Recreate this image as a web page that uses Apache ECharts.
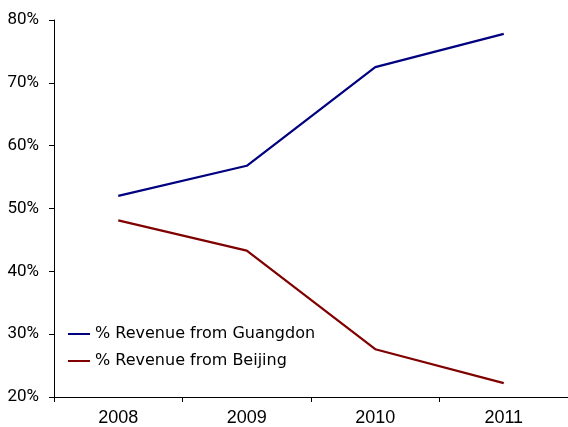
<!DOCTYPE html>
<html>
<head>
<meta charset="utf-8">
<script src="https://cdn.jsdelivr.net/npm/echarts@6/dist/echarts.min.js"></script>
<style>html,body{margin:0;padding:0;background:#fff;}#c{width:568px;height:427px;}</style>
</head>
<body>
<div id="c"></div>
<script>
const categories = ['2008', '2009', '2010', '2011'];
const guangdong = [52.0, 56.8, 72.5, 77.8];
const beijing = [48.1, 43.3, 27.6, 22.2];
const seriesNames = ['% Revenue from Guangdon', '% Revenue from Beijing'];

const chart = echarts.init(document.getElementById('c'), null, {renderer: 'canvas'});
chart.setOption({
  animation: false,
  backgroundColor: '#ffffff',
  grid: {left: 54, top: 20, width: 516, height: 377, containLabel: false},
  legend: {
    orient: 'vertical', left: 68, top: 326, padding: 0, itemGap: 11, itemWidth: 22, itemHeight: 14,
    icon: 'path://M0,6 L22,6 L22,8 L0,8 Z',
    textStyle: {fontFamily: 'DejaVu Sans', fontSize: 16, color: '#000'},
    data: seriesNames
  },
  xAxis: {
    type: 'category', data: categories, boundaryGap: true,
    axisLine: {lineStyle: {color: '#000', width: 1}},
    axisTick: {show: true, length: 5, inside: false, alignWithLabel: false, lineStyle: {color: '#000'}},
    axisLabel: {margin: 12, fontFamily: 'Liberation Sans', fontSize: 18, color: '#000'}
  },
  yAxis: {
    type: 'value', min: 20, max: 80, interval: 10,
    splitLine: {show: false},
    axisLine: {show: true, lineStyle: {color: '#000', width: 1}},
    axisTick: {show: true, length: 5, lineStyle: {color: '#000'}},
    axisLabel: {margin: 15, fontFamily: 'Roboto', fontSize: 17, color: '#000', formatter: '{value}%'}
  },
  series: [
    {name: seriesNames[0], type: 'line', data: guangdong, symbol: 'none', lineStyle: {color: '#000080', width: 2.2}, itemStyle: {color: '#000080'}},
    {name: seriesNames[1], type: 'line', data: beijing, symbol: 'none', lineStyle: {color: '#800000', width: 2.2}, itemStyle: {color: '#800000'}}
  ]
});
</script>
</body>
</html>
